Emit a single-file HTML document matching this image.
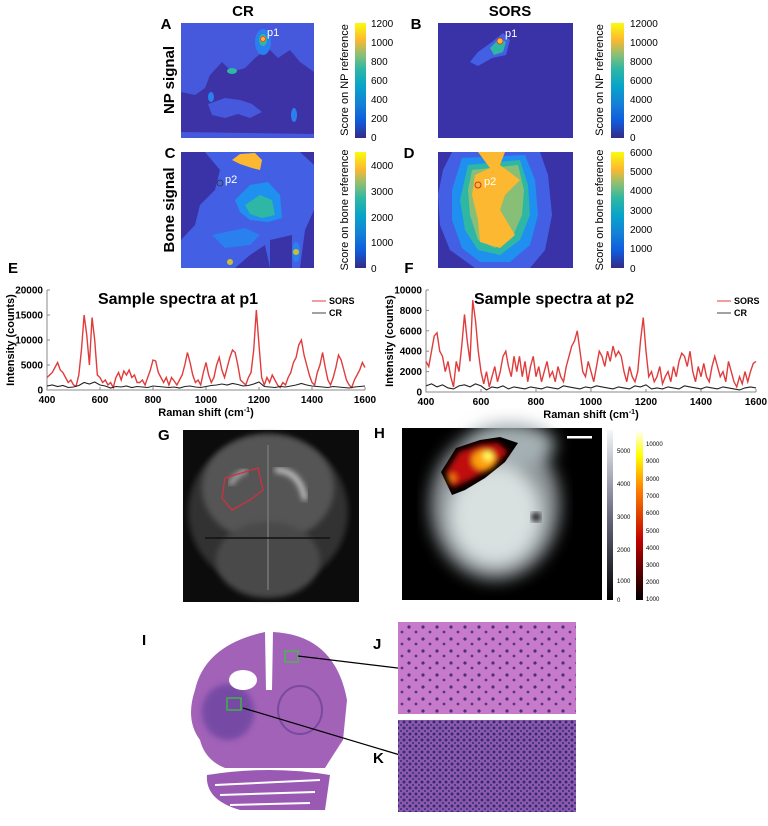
<!DOCTYPE html>
<html><head><meta charset="utf-8"><style>
body{margin:0;background:#fff;width:768px;height:826px;overflow:hidden}
svg{display:block;font-family:"Liberation Sans",sans-serif}
.pl{font-weight:bold;font-size:15px}
.tk{font-size:10px;font-weight:bold}
.cb{font-size:10px}
</style></head><body>
<svg id="fig" width="768" height="826" viewBox="0 0 768 826">
<defs>
<linearGradient id="parula" x1="0" y1="1" x2="0" y2="0">
<stop offset="0" stop-color="#352a87"/><stop offset="0.15" stop-color="#0f5cdd"/><stop offset="0.3" stop-color="#1481d6"/><stop offset="0.45" stop-color="#06a4ca"/><stop offset="0.6" stop-color="#2eb7a4"/><stop offset="0.72" stop-color="#87bf77"/><stop offset="0.85" stop-color="#fcb830"/><stop offset="1" stop-color="#f9fb0e"/></linearGradient>
<linearGradient id="greyg" x1="0" y1="1" x2="0" y2="0"><stop offset="0" stop-color="#000"/><stop offset="0.5" stop-color="#6a6a80"/><stop offset="1" stop-color="#f4f8f8"/></linearGradient>
<linearGradient id="hotg" x1="0" y1="1" x2="0" y2="0"><stop offset="0" stop-color="#000"/><stop offset="0.35" stop-color="#c00000"/><stop offset="0.65" stop-color="#ff8000"/><stop offset="0.85" stop-color="#ffff00"/><stop offset="1" stop-color="#fff"/></linearGradient>
<filter id="bl"><feGaussianBlur stdDeviation="8"/></filter>
<filter id="bl2"><feGaussianBlur stdDeviation="3"/></filter>
<pattern id="jp" width="14" height="12" patternUnits="userSpaceOnUse"><rect width="14" height="12" fill="#c77ac9"/><circle cx="3" cy="3" r="1.6" fill="#4a2f7a"/><circle cx="10" cy="8" r="1.4" fill="#54358a"/></pattern>
<pattern id="kp" width="6" height="6" patternUnits="userSpaceOnUse"><rect width="6" height="6" fill="#8b5aae"/><circle cx="2" cy="2" r="1.5" fill="#3a2a72"/><circle cx="5" cy="5" r="1.1" fill="#463282"/></pattern>
<clipPath id="cA"><rect x="181" y="23" width="133" height="115"/></clipPath>
<clipPath id="cB"><rect x="438" y="23" width="135" height="115"/></clipPath>
<clipPath id="cC"><rect x="181" y="152" width="133" height="116"/></clipPath>
<clipPath id="cD"><rect x="438" y="152" width="135" height="116"/></clipPath>
</defs>

<text x="243" y="16" class="pl" text-anchor="middle">CR</text>
<text x="510" y="16" class="pl" text-anchor="middle">SORS</text>
<text x="166" y="29" class="pl" text-anchor="middle">A</text>
<text x="416" y="29" class="pl" text-anchor="middle">B</text>
<text x="170" y="158" class="pl" text-anchor="middle">C</text>
<text x="409" y="158" class="pl" text-anchor="middle">D</text>
<text transform="translate(174,80) rotate(-90)" class="pl" text-anchor="middle">NP signal</text>
<text transform="translate(174,210) rotate(-90)" class="pl" text-anchor="middle">Bone signal</text>

<g clip-path="url(#cA)">
<rect x="181" y="23" width="133" height="115" fill="#3d33a6"/>
<polygon points="181,23 314,23 314,72 300,62 290,50 278,58 268,48 255,58 245,68 232,72 222,62 210,75 205,88 195,95 181,92" fill="#4658dc"/>
<polygon points="208,104 225,98 240,100 252,104 262,112 250,118 238,114 225,118 212,115" fill="#4658dc"/>
<polygon points="181,132 314,134 314,138 181,138" fill="#4658dc"/>
<ellipse cx="263" cy="42" rx="8" ry="13" fill="#2a80ee"/>
<ellipse cx="263" cy="40" rx="4" ry="6" fill="#2eb7a4"/>
<circle cx="263" cy="39" r="3" fill="#fcb830"/>
<circle cx="263" cy="39" r="2.5" fill="none" stroke="#c33" stroke-width="0.8"/>
<ellipse cx="232" cy="71" rx="5" ry="3" fill="#2eb7a4"/>
<ellipse cx="294" cy="115" rx="3" ry="7" fill="#2a80ee"/>
<ellipse cx="211" cy="97" rx="3" ry="5" fill="#2a80ee"/>
<text x="267" y="36" fill="#fff" font-size="11">p1</text>
</g>
<g clip-path="url(#cB)">
<rect x="438" y="23" width="135" height="115" fill="#3a33a8"/>
<polygon points="470,62 478,52 492,42 503,33 510,40 506,55 492,58 478,66" fill="#4360e4"/>
<polygon points="490,48 500,38 506,42 503,52 494,55" fill="#2eb7a4"/>
<circle cx="500" cy="41" r="3" fill="#fcb830" stroke="#c33" stroke-width="0.8"/>
<text x="505" y="37" fill="#fff" font-size="11">p1</text>
</g>
<g clip-path="url(#cC)">
<rect x="181" y="152" width="133" height="116" fill="#3a33a8"/>
<polygon points="205,152 300,152 314,165 314,210 305,230 300,268 270,268 265,245 250,255 235,268 181,268 181,240 195,225 200,205 215,190 220,170" fill="#4360e4"/>
<polygon points="235,200 250,185 268,182 280,195 282,218 268,222 250,220 240,212" fill="#1f8ff0"/>
<polygon points="245,205 260,195 272,200 275,215 262,218 250,214" fill="#2eb7a4"/>
<polygon points="232,160 240,154 255,153 262,160 260,170 252,168 240,164" fill="#fcb830"/>
<polygon points="212,235 245,228 260,235 250,245 225,248" fill="#2a80ee"/>
<ellipse cx="296" cy="252" rx="4" ry="10" fill="#2a80ee"/>
<circle cx="296" cy="252" r="3" fill="#c8c030"/>
<circle cx="230" cy="262" r="3" fill="#c8c030"/>
<polygon points="270,240 292,235 292,268 270,268" fill="#3a33a8"/>
<circle cx="220" cy="183" r="3" fill="none" stroke="#333" stroke-width="0.8"/>
<text x="225" y="183" fill="#fff" font-size="11">p2</text>
</g>
<g clip-path="url(#cD)">
<rect x="438" y="152" width="135" height="116" fill="#3a33a8"/>
<polygon points="452,152 540,152 548,175 552,215 545,250 530,268 475,268 450,250 440,225 438,195 443,170" fill="#4360e4"/>
<polygon points="462,158 525,155 535,180 538,215 530,245 510,262 480,262 462,248 452,220 452,190" fill="#1f8ff0"/>
<polygon points="468,165 520,160 528,185 530,215 520,240 500,255 478,250 465,230 460,200" fill="#2eb7a4"/>
<polygon points="472,170 518,165 524,190 522,215 512,238 495,248 478,240 470,215 468,190" fill="#87bf77"/>
<polygon points="478,152 505,152 500,165 520,180 505,195 500,210 515,235 500,248 480,242 478,220 472,195 475,175 490,168" fill="#fcb830"/>
<circle cx="478" cy="185" r="3" fill="none" stroke="#c33" stroke-width="1"/>
<text x="484" y="185" fill="#fff" font-size="11">p2</text>
</g>

<g>
<rect x="355" y="23" width="11" height="115" fill="url(#parula)"/>
<text class="cb" x="371" y="27">1200</text><text class="cb" x="371" y="46">1000</text><text class="cb" x="371" y="65">800</text><text class="cb" x="371" y="84">600</text><text class="cb" x="371" y="103">400</text><text class="cb" x="371" y="122">200</text><text class="cb" x="371" y="141">0</text>
<text transform="translate(348,80) rotate(-90)" font-size="11" text-anchor="middle">Score on NP reference</text></g>
<g>
<rect x="611" y="23" width="13" height="115" fill="url(#parula)"/>
<text class="cb" x="630" y="27">12000</text><text class="cb" x="630" y="46">10000</text><text class="cb" x="630" y="65">8000</text><text class="cb" x="630" y="84">6000</text><text class="cb" x="630" y="103">4000</text><text class="cb" x="630" y="122">2000</text><text class="cb" x="630" y="141">0</text>
<text transform="translate(603,80) rotate(-90)" font-size="11" text-anchor="middle">Score on NP reference</text></g>
<g>
<rect x="355" y="152" width="11" height="116" fill="url(#parula)"/>
<text class="cb" x="371" y="169">4000</text><text class="cb" x="371" y="195">3000</text><text class="cb" x="371" y="221">2000</text><text class="cb" x="371" y="246">1000</text><text class="cb" x="371" y="272">0</text>
<text transform="translate(348,210) rotate(-90)" font-size="11" text-anchor="middle">Score on bone reference</text></g>
<g>
<rect x="611" y="152" width="13" height="116" fill="url(#parula)"/>
<text class="cb" x="630" y="156">6000</text><text class="cb" x="630" y="175">5000</text><text class="cb" x="630" y="194">4000</text><text class="cb" x="630" y="214">3000</text><text class="cb" x="630" y="233">2000</text><text class="cb" x="630" y="252">1000</text><text class="cb" x="630" y="272">0</text>
<text transform="translate(603,210) rotate(-90)" font-size="11" text-anchor="middle">Score on bone reference</text></g>

<text x="13" y="273" class="pl" text-anchor="middle">E</text>
<text x="409" y="273" class="pl" text-anchor="middle">F</text>

<g id="plotE"></g>
<g id="plotF"></g>

<text x="158" y="440" class="pl">G</text>
<g>
<rect x="183" y="430" width="176" height="172" fill="#0c0c0c"/>
<ellipse cx="268" cy="512" rx="80" ry="76" fill="#333" filter="url(#bl2)"/>
<ellipse cx="268" cy="488" rx="66" ry="54" fill="#555" filter="url(#bl2)"/>
<ellipse cx="268" cy="560" rx="52" ry="38" fill="#4a4a4a" filter="url(#bl2)"/>
<path d="M275,470 Q300,470 305,500" stroke="#ccc" stroke-width="5" fill="none" filter="url(#bl2)"/>
<path d="M247,470 Q235,475 230,485" stroke="#bbb" stroke-width="4" fill="none" filter="url(#bl2)"/>
<line x1="268" y1="445" x2="268" y2="590" stroke="#777" stroke-width="1.5"/>
<line x1="205" y1="538" x2="330" y2="538" stroke="#111" stroke-width="1.5"/>
<path d="M225,478 L258,468 L263,490 L250,500 L232,510 L222,498 Z" fill="none" stroke="#d03040" stroke-width="1.3"/>
</g>

<text x="374" y="438" class="pl">H</text>
<g>
<rect x="402" y="428" width="200" height="172" fill="#000"/>
<g filter="url(#bl)"><ellipse cx="495" cy="505" rx="65" ry="75" fill="#8e9498"/><ellipse cx="495" cy="515" rx="45" ry="50" fill="#d8e0e0"/><ellipse cx="510" cy="445" rx="45" ry="22" fill="#a4b0b4"/></g>
<polygon points="441,472 456,448 480,440 500,437 518,443 505,462 485,478 465,490 452,495" fill="#000"/>
<g filter="url(#bl2)"><polygon points="446,472 459,452 482,444 498,443 508,452 492,468 470,480 452,488" fill="#c01008"/><ellipse cx="484" cy="460" rx="12" ry="10" fill="#ffa010"/><ellipse cx="488" cy="456" rx="5" ry="5" fill="#ffff60"/><ellipse cx="452" cy="478" rx="4" ry="4" fill="#ff8010"/></g>
<circle cx="536" cy="517" r="5" fill="#222" filter="url(#bl2)"/>
<rect x="567" y="436" width="25" height="2.5" fill="#fff"/>
</g>
<g><rect x="607" y="430" width="6" height="170" fill="url(#greyg)"/>
<g font-size="6"><text x="617" y="453">5000</text><text x="617" y="486">4000</text><text x="617" y="519">3000</text><text x="617" y="552">2000</text><text x="617" y="583">1000</text><text x="617" y="602">0</text></g></g>
<g><rect x="636" y="430" width="7" height="170" fill="url(#hotg)"/>
<g font-size="6"><text x="646" y="446">10000</text><text x="646" y="463">9000</text><text x="646" y="481">8000</text><text x="646" y="498">7000</text><text x="646" y="515">6000</text><text x="646" y="533">5000</text><text x="646" y="550">4000</text><text x="646" y="567">3000</text><text x="646" y="584">2000</text><text x="646" y="601">1000</text></g></g>

<text x="142" y="645" class="pl">I</text>
<g>
<path d="M195,690 Q205,645 265,632 L266,690 L272,690 L273,632 Q335,635 347,700 L343,740 Q335,752 325,768 L225,768 Q205,760 200,740 Q185,720 195,690 Z" fill="#a262b8"/>
<ellipse cx="228" cy="712" rx="26" ry="28" fill="#5a3a98" opacity="0.6" filter="url(#bl2)"/>
<ellipse cx="243" cy="680" rx="14" ry="10" fill="#fff"/>
<ellipse cx="300" cy="710" rx="22" ry="24" fill="none" stroke="#7a4aa0" stroke-width="2"/>
<path d="M207,775 Q270,765 330,775 L325,810 L240,810 Q205,800 207,775 Z" fill="#9a5ab4"/>
<path d="M215,785 L320,780 M220,795 L315,792 M230,805 L310,803" stroke="#fff" stroke-width="2"/>
<rect x="285" y="651" width="13" height="11" fill="none" stroke="#3c3" stroke-width="1.2"/>
<rect x="227" y="698" width="14" height="12" fill="none" stroke="#3c3" stroke-width="1.2"/>
<line x1="298" y1="656" x2="480" y2="678" stroke="#000" stroke-width="1.2"/>
<line x1="243" y1="708" x2="400" y2="755" stroke="#000" stroke-width="1.2"/>
</g>
<text x="373" y="649" class="pl">J</text>
<rect x="398" y="622" width="178" height="92" fill="url(#jp)"/>
<text x="373" y="763" class="pl">K</text>
<rect x="398" y="720" width="178" height="92" fill="url(#kp)"/>
</svg>
<script>
const xStep10 = [];
for (let v = 400; v <= 1600; v += 10) xStep10.push(v);
const xStep20 = [];
for (let v = 400; v <= 1600; v += 20) xStep20.push(v);
const sorsP1 = [2500,3000,3500,4500,5500,4000,3500,2500,1500,2000,1000,800,3000,8000,15000,11000,5000,14500,10000,3000,2500,1500,2000,1000,1500,500,2500,3500,2000,3800,3000,4000,2500,3000,1500,1500,2000,1000,2500,4000,6000,5800,3500,2500,1500,2500,1000,2500,1800,1000,2000,3000,5000,7500,5500,3000,1500,2000,1000,3500,5500,3000,1500,2500,5000,6500,4000,2500,4500,6500,8000,7500,5000,2000,1500,1000,2500,3500,8000,16000,9000,2500,1000,2500,1500,3000,2000,1000,500,1500,1000,2500,3500,5500,6500,9000,10000,7000,5000,3000,1500,1000,3500,5000,7500,4500,2000,1000,2500,4500,7000,6000,4000,2000,1000,500,2000,3000,4000,5500,4500];
const crP1 = [800,1000,700,900,500,600,900,1500,1200,1600,1000,800,400,700,600,800,500,700,600,500,800,700,600,500,600,400,700,800,600,500,700,900,1000,1200,1000,1300,1100,800,900,1200,1600,700,600,500,700,600,800,1000,1300,1000,800,700,600,500,700,600,500,400,600,700,800];
const sorsP2 = [3000,2500,4000,5500,5800,4000,3500,2000,3000,1500,500,3000,2000,4500,7600,5000,3000,9000,7000,4000,2000,800,2000,500,1500,2500,1000,2000,3500,4000,2500,1500,3500,2000,3500,1500,3000,1000,2500,3500,1500,2500,1000,2000,3000,1500,2000,1000,2500,1500,1000,2500,3500,4500,5000,6000,4000,2000,1500,3000,2000,1000,2500,4000,3500,2500,4000,3000,4500,3500,4000,3500,2000,1000,2500,1500,1000,2000,5000,7300,4000,1500,2000,1000,1500,2500,800,1500,2000,1000,2500,1500,3000,3800,3500,2500,4000,2000,1000,2500,1500,2800,1500,1000,2500,3500,2500,1500,2000,1000,3000,2000,1000,500,1500,800,2000,1000,2000,2800,3000];
const crP2 = [600,800,500,700,400,300,600,700,500,800,600,200,500,400,600,300,500,400,300,500,400,300,500,400,300,600,500,400,300,500,400,600,500,400,300,500,400,300,600,500,700,300,400,300,500,400,300,600,500,400,300,500,400,300,500,400,300,200,400,500,400];
const ticksE = [0,5000,10000,15000,20000];
const ticksF = [0,2000,4000,6000,8000,10000];
const ticksX = [400,600,800,1000,1200,1400,1600];
const NS = 'http://www.w3.org/2000/svg';
function mk(tag, attrs, parent) {
  const e = document.createElementNS(NS, tag);
  for (const k in attrs) e.setAttribute(k, attrs[k]);
  parent.appendChild(e); return e;
}
function drawPlot(g, cfg) {
  const sx = v => cfg.x0 + (v - 400) / 1200 * (cfg.x1 - cfg.x0);
  const sy = v => cfg.yb - v / cfg.ymax * (cfg.yb - cfg.yt);
  const ax = mk('path', {d:`M${cfg.x0},${cfg.yt}V${cfg.yb}H${cfg.x1}`, stroke:'#888', fill:'none','stroke-width':1}, g);
  
  
  cfg.yticks.forEach(t => {
    mk('line', {x1:cfg.x0, x2:cfg.x0+3, y1:sy(t), y2:sy(t), stroke:'#888'}, g);
    const tx = mk('text', {x:cfg.x0-4, y:sy(t)+3.5, 'text-anchor':'end', class:'tk'}, g);
    tx.textContent = t;
    
    
  });
  ticksX.forEach(t => {
    mk('line', {x1:sx(t), x2:sx(t), y1:cfg.yb, y2:cfg.yb-3, stroke:'#888'}, g);
    const tx = mk('text', {x:sx(t), y:cfg.yb+13, 'text-anchor':'middle', class:'tk'}, g);
    tx.textContent = t;
    
    
  });
  const line = (xs, ys, col, w, name) => {
    const p = mk('polyline', {points: ys.map((v,i)=>sx(xs[i])+','+sy(v)).join(' '), fill:'none', stroke:col, 'stroke-width':w}, g);
    
    
  };
  line(xStep10, cfg.sors, '#e03c3c', 1.4, 'sors-line');
  line(xStep20, cfg.cr, '#222', 1.1, 'cr-line');
  const t = mk('text', {x:cfg.tx, y:cfg.yt+14, 'text-anchor':'middle', 'font-weight':'bold', 'font-size':'16'}, g);
  t.textContent = cfg.title;
  
  
  const yl = mk('text', {transform:`translate(${cfg.ylx},${(cfg.yt+cfg.yb)/2}) rotate(-90)`, 'text-anchor':'middle', 'font-weight':'bold', 'font-size':'11'}, g);
  yl.textContent = 'Intensity (counts)';
  
  
  const xl = mk('text', {x:(cfg.x0+cfg.x1)/2, y:cfg.yb+26, 'text-anchor':'middle', 'font-weight':'bold', 'font-size':'11'}, g);
  xl.innerHTML = 'Raman shift (cm<tspan dy="-4" font-size="7">-1</tspan><tspan dy="4">)</tspan>';
  
  
  [['SORS','#e03c3c',cfg.yt+14],['CR','#444',cfg.yt+26]].forEach(([n,c,y]) => {
    const lg = mk('g', {}, g);
    
    
    mk('line', {x1:cfg.lx, x2:cfg.lx+14, y1:y-3, y2:y-3, stroke:c, 'stroke-width':1}, lg);
    const tt = mk('text', {x:cfg.lx+17, y:y, 'font-size':'9', 'font-weight':'bold'}, lg);
    tt.textContent = n;
  });
}
drawPlot(document.getElementById('plotE'), {x0:47, x1:365, yt:290, yb:390, ymax:20000, yticks:ticksE, sors:sorsP1, cr:crP1, title:'Sample spectra at p1', tx:178, ylx:14, lx:312});
drawPlot(document.getElementById('plotF'), {x0:426, x1:756, yt:290, yb:392, ymax:10000, yticks:ticksF, sors:sorsP2, cr:crP2, title:'Sample spectra at p2', tx:554, ylx:393, lx:717});
</script>
</body></html>
